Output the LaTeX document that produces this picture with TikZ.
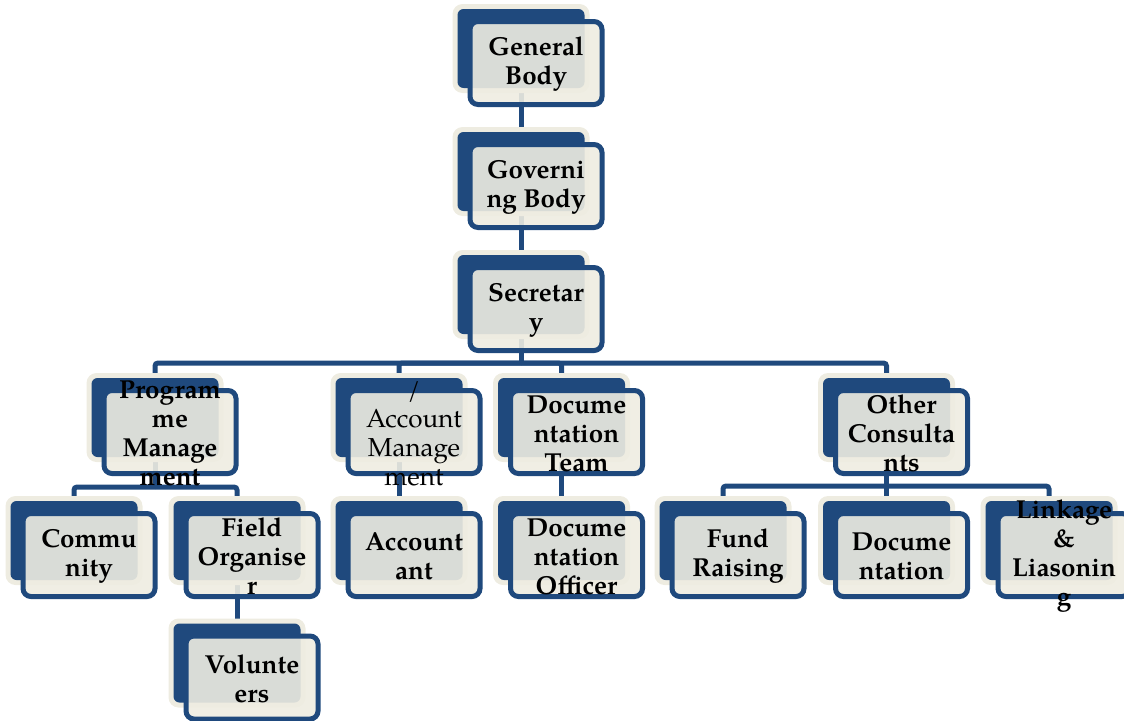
\documentclass[tikz,border=0pt]{standalone}
\usepackage{fontspec}
\setmainfont{TeX Gyre Pagella}
\definecolor{dblue}{HTML}{1F497D}
\definecolor{cream}{HTML}{EEECE1}
\pgfdeclarelayer{bg}
\pgfsetlayers{bg,main}
\tikzset{
 halo/.style={fill=cream, rounded corners=10pt, minimum width=137pt, minimum height=89pt, inner sep=0pt},
 back/.style={fill=dblue, rounded corners=6pt, minimum width=127pt, minimum height=79pt, inner sep=0pt},
 front/.style={draw=dblue, line width=5pt, fill=cream, fill opacity=0.9, rounded corners=8pt, minimum width=132pt, minimum height=83pt, inner sep=0pt},
 lbl/.style={align=center, font=\fontsize{26}{29}\selectfont\bfseries, inner sep=0pt},
 lblreg/.style={align=center, font=\fontsize{26}{29}\selectfont, inner sep=0pt},
 link/.style={draw=dblue, line width=5pt, rounded corners=3pt},
}
\newcommand{\orgbox}[5][lbl]{%
  \node[halo] (#2h) at (#3,#4) {};
  \node[back] (#2) at (#3,#4) {};
  \node[front] (#2f) at (#3+15,#4+14.5) {};
  \node[#1] (#2t) at (#3+15,#4+16) {#5};
}
\begin{document}
\begin{tikzpicture}[x=1pt,y=-1pt]
\useasboundingbox (0,0) rectangle (1124,720);
\orgbox{gen}{521}{48.5}{General\\Body}
\orgbox{gov}{521}{171.5}{Governi\\ng Body}
\orgbox{sec}{521}{294.5}{Secretar\\y}
\orgbox{pm}{155}{417.5}{Program\\me\\Manage\\ment}
\orgbox[lblreg]{am}{399}{417.5}{/\\Account\\Manage\\ment}
\orgbox{dt}{561.5}{417.5}{Docume\\ntation\\Team}
\orgbox{oc}{886.5}{417.5}{Other\\Consulta\\nts}
\orgbox{com}{74}{540.5}{Commu\\nity}
\orgbox{fo}{237}{540.5}{Field\\Organise\\r}
\orgbox{acc}{399}{540.5}{Account\\ant}
\orgbox{do}{561.5}{540.5}{Docume\\ntation\\Officer}
\orgbox{fr}{723}{540.5}{Fund\\Raising}
\orgbox{doc}{886.5}{540.5}{Docume\\ntation}
\orgbox{lk}{1049}{540.5}{Linkage\\\&\\Liasonin\\g}
\orgbox{vol}{237}{663}{Volunte\\ers}
\begin{pgfonlayer}{bg}
\coordinate (j1) at (521,363);
\coordinate (j2) at (155,487);
\coordinate (j3) at (886.5,486);
\draw[link] (gen.center) -- (gov.center);
\draw[link] (gov.center) -- (sec.center);
\draw[link] (sec.center) -- (j1);
\draw[link] (pm.center) |- (j1);
\draw[link] (am.center) |- (j1);
\draw[link] (dt.center) |- (j1);
\draw[link] (oc.center) |- (j1);
\draw[link] (pm.center) -- (j2);
\draw[link] (com.center) |- (j2);
\draw[link] (fo.center) |- (j2);
\draw[link] (am.center) -- (acc.center);
\draw[link] (dt.center) -- (do.center);
\draw[link] (oc.center) -- (j3);
\draw[link] (fr.center) |- (j3);
\draw[link] (doc.center) |- (j3);
\draw[link] (lk.center) |- (j3);
\draw[link] (fo.center) -- (vol.center);
\end{pgfonlayer}
\end{tikzpicture}
\end{document}
